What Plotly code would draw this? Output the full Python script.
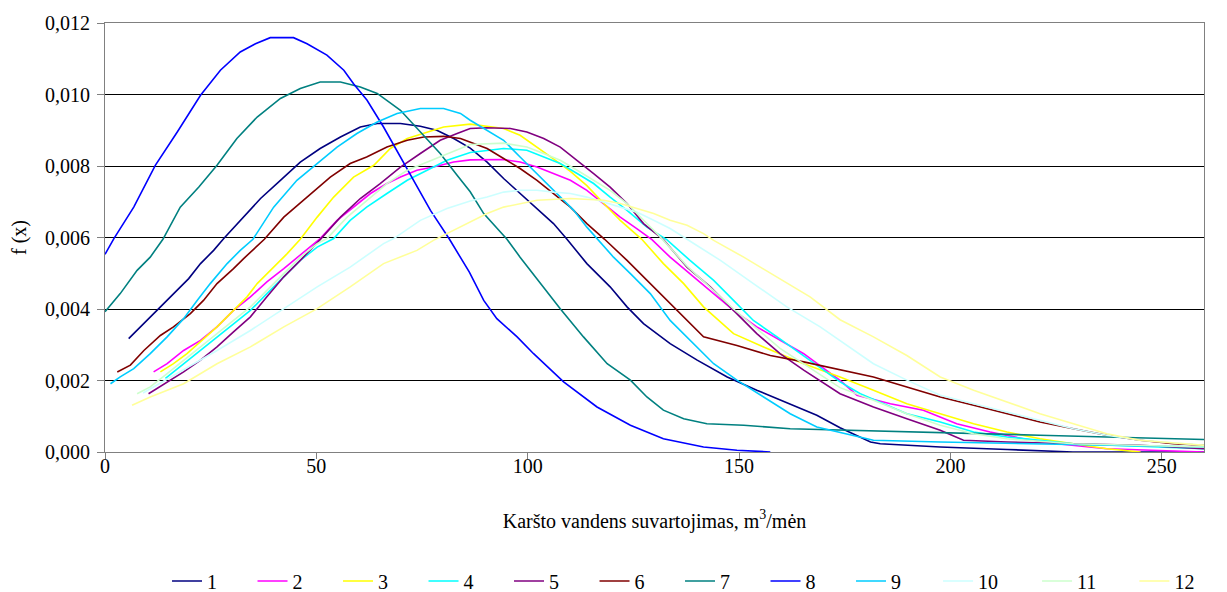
import plotly.graph_objects as go

# x: hot water consumption (m3/month); f: density values in units of 0.001
x1 = [5.6, 9.2, 12.7, 16.2, 19.8, 22.6, 25.7, 28.1, 32, 36.8, 41.5, 46.2, 50.9, 55.7, 60.4, 64.4, 69.9, 74.6, 78.5, 82.5, 86.4, 90.4, 94.3, 98.2, 102.2, 106.1, 109.3, 114, 119.5, 123.5, 127.4, 133.7, 140.1, 147.2, 154.2, 161.9, 168.4, 173.9, 177.9, 181.1, 183.4, 197.6, 213.4, 229, 260]
f1 = [3.17, 3.59, 4.01, 4.43, 4.85, 5.27, 5.64, 5.97, 6.48, 7.09, 7.60, 8.11, 8.49, 8.81, 9.09, 9.19, 9.19, 9.11, 9.00, 8.77, 8.50, 8.11, 7.65, 7.23, 6.81, 6.39, 5.95, 5.27, 4.62, 4.06, 3.59, 3.03, 2.57, 2.10, 1.73, 1.35, 1.03, 0.68, 0.47, 0.28, 0.23, 0.14, 0.07, 0.0, 0.0]

x2 = [11.5, 14.7, 18.6, 22.6, 26.5, 30.4, 34.4, 38.3, 42.3, 47, 50.9, 54.9, 58.8, 62.8, 66.7, 69.9, 73.8, 77.7, 82.5, 86.4, 94.3, 98.2, 102.2, 106.1, 110.1, 114, 118, 121.9, 125.8, 129.4, 133.7, 138.4, 143.2, 148.7, 154.2, 159.7, 165.3, 173.9, 177.9, 185.8, 193.6, 201.5, 209.4, 217.3, 225.2, 237, 260]
f2 = [2.24, 2.47, 2.84, 3.12, 3.50, 3.96, 4.34, 4.76, 5.13, 5.59, 5.97, 6.48, 6.85, 7.23, 7.51, 7.69, 7.88, 7.97, 8.11, 8.17, 8.18, 8.11, 7.97, 7.79, 7.60, 7.32, 6.95, 6.57, 6.25, 5.94, 5.45, 4.99, 4.52, 3.96, 3.50, 3.12, 2.75, 2.00, 1.59, 1.35, 1.17, 0.79, 0.56, 0.37, 0.23, 0.09, 0.0]

x3 = [13.1, 16.2, 19.4, 23.3, 26.5, 30.4, 33.6, 36, 39.9, 43.1, 46.2, 50.2, 54.1, 58.8, 63.6, 67.5, 71.5, 76.2, 80.1, 86.4, 90.4, 94.3, 98.2, 102.2, 106.1, 110.1, 114, 118, 121.9, 127, 132.1, 136.9, 141.6, 148.7, 155.8, 165.3, 173.9, 181.8, 189.7, 197.6, 205.5, 213.4, 221.2, 229.1, 237, 245]
f3 = [2.24, 2.47, 2.75, 3.17, 3.50, 3.96, 4.34, 4.71, 5.17, 5.55, 5.95, 6.57, 7.13, 7.69, 8.02, 8.49, 8.77, 8.95, 9.09, 9.17, 9.11, 9.05, 8.86, 8.53, 8.20, 7.85, 7.45, 6.95, 6.48, 5.95, 5.27, 4.71, 4.06, 3.31, 2.94, 2.47, 2.10, 1.73, 1.35, 1.07, 0.79, 0.56, 0.37, 0.23, 0.09, 0.0]

x4 = [14.3, 18.6, 22.6, 26.5, 30.4, 34.4, 38.3, 42.3, 46.2, 50.2, 54.1, 58, 61.9, 66.7, 71.5, 76.2, 80.9, 86.4, 94.3, 99.8, 103.8, 107.7, 111.7, 115.6, 119.5, 123.5, 128.2, 132.9, 138.4, 144, 148.7, 153.4, 159, 164.5, 170, 173.9, 178.7, 189.7, 197.6, 205.5, 213.4, 229.1, 260]
f4 = [2.06, 2.47, 2.84, 3.22, 3.59, 3.96, 4.43, 4.90, 5.36, 5.73, 5.97, 6.48, 6.85, 7.23, 7.60, 7.88, 8.16, 8.38, 8.49, 8.44, 8.25, 8.07, 7.79, 7.51, 7.13, 6.76, 6.29, 5.94, 5.36, 4.80, 4.24, 3.68, 3.22, 2.75, 2.29, 1.96, 1.63, 1.07, 0.84, 0.56, 0.42, 0.23, 0.09]

x5 = [10.3, 14.7, 18.6, 22.6, 26.5, 30.4, 34.4, 38.3, 42.3, 46.2, 50.9, 55.7, 60.4, 65.1, 69.9, 74.6, 79.3, 83.3, 86.4, 90.4, 95.9, 99.8, 103.8, 107.7, 111.7, 115.6, 119.5, 123.5, 127.4, 132.1, 137.7, 143.2, 148.7, 154.2, 159.7, 165.3, 173.9, 181.8, 189.7, 197.6, 203.1, 213.4, 229.1, 244.9, 260]
f5 = [1.63, 1.96, 2.24, 2.57, 2.94, 3.36, 3.78, 4.34, 4.90, 5.36, 5.94, 6.57, 7.09, 7.51, 7.97, 8.35, 8.72, 8.91, 9.05, 9.07, 9.05, 8.95, 8.77, 8.53, 8.16, 7.79, 7.41, 6.95, 6.39, 5.94, 5.17, 4.62, 3.96, 3.31, 2.75, 2.29, 1.63, 1.26, 0.93, 0.61, 0.33, 0.28, 0.23, 0.19, 0.09]

x6 = [2.9, 6, 9.2, 13.1, 16.2, 20.2, 23.3, 26.5, 30.4, 32.8, 37.7, 42.3, 47.8, 53.3, 58, 61.9, 66.7, 71.5, 75.4, 80.1, 84.1, 86.4, 90.4, 94.3, 98.2, 102.2, 106.1, 110.1, 114, 118.2, 123.5, 128.2, 132.9, 136.9, 140, 141.6, 149.5, 157.4, 165.3, 173.9, 181.8, 189.7, 197.6, 205.5, 213.4, 221.2, 229.1, 237, 244.9, 252.8, 260]
f6 = [2.24, 2.43, 2.84, 3.26, 3.50, 3.87, 4.24, 4.71, 5.13, 5.41, 5.95, 6.57, 7.13, 7.69, 8.07, 8.25, 8.53, 8.72, 8.81, 8.83, 8.77, 8.67, 8.49, 8.21, 7.93, 7.60, 7.23, 6.85, 6.39, 5.95, 5.36, 4.80, 4.24, 3.78, 3.40, 3.22, 2.98, 2.70, 2.52, 2.29, 2.10, 1.82, 1.54, 1.31, 1.07, 0.84, 0.65, 0.47, 0.33, 0.23, 0.19]

x7 = [0, 3.6, 7.6, 10.7, 13.7, 17.8, 22.2, 26.5, 31.2, 36, 41.5, 46.2, 50.9, 55.7, 60.4, 64.4, 69.9, 74.6, 79.3, 83.3, 86.4, 89.6, 95.1, 98.2, 103, 107.7, 113.2, 118.8, 124.3, 128.2, 132.1, 136.9, 142.4, 151.1, 162.1, 174, 189.7, 205.5, 221.2, 237, 260]
f7 = [3.92, 4.43, 5.08, 5.45, 5.95, 6.85, 7.41, 8.02, 8.77, 9.37, 9.89, 10.17, 10.35, 10.35, 10.21, 10.03, 9.56, 8.95, 8.35, 7.74, 7.28, 6.67, 5.95, 5.45, 4.71, 4.01, 3.22, 2.47, 2.01, 1.54, 1.17, 0.93, 0.79, 0.75, 0.65, 0.61, 0.56, 0.51, 0.47, 0.42, 0.35]

x8 = [0, 2.1, 6.8, 11.9, 17.1, 22.6, 27.3, 32, 35.6, 39.1, 44.6, 47.8, 52.5, 56.5, 58.8, 62, 65.9, 69.9, 73, 77, 81.5, 86.2, 89.6, 92.7, 97.5, 101.4, 108.5, 116.4, 124.3, 132.1, 141.6, 149.5, 157.4]
f8 = [5.53, 5.97, 6.85, 8.02, 8.95, 9.98, 10.68, 11.19, 11.42, 11.59, 11.59, 11.42, 11.10, 10.68, 10.30, 9.84, 9.09, 8.25, 7.60, 6.76, 5.95, 5.03, 4.24, 3.73, 3.22, 2.75, 1.96, 1.26, 0.75, 0.37, 0.14, 0.05, 0.0]

x9 = [1.3, 3.6, 6.8, 10.7, 14.7, 18.6, 21.8, 24.9, 28.9, 32, 35, 39.9, 45.4, 50.2, 54.9, 59.6, 64.4, 69.1, 74.6, 80.1, 84.1, 86.4, 90.4, 94.3, 98.2, 102.2, 106.1, 110.9, 114, 116.6, 120.3, 124.3, 129, 133.7, 138.4, 144, 149.5, 155.8, 162.1, 168.4, 173.9, 181.8, 197.6, 221.2, 260]
f9 = [1.91, 2.10, 2.33, 2.75, 3.22, 3.73, 4.24, 4.71, 5.27, 5.64, 5.95, 6.85, 7.60, 8.07, 8.53, 8.91, 9.23, 9.47, 9.61, 9.61, 9.47, 9.28, 9.00, 8.72, 8.25, 7.79, 7.32, 6.76, 6.29, 5.95, 5.45, 4.99, 4.43, 3.68, 3.12, 2.47, 2.01, 1.54, 1.07, 0.70, 0.54, 0.33, 0.28, 0.22, 0.14]

x10 = [9, 18.6, 26.5, 34.4, 42.3, 50.2, 58, 65.9, 68.3, 74.6, 80.9, 86.4, 90.4, 94.3, 98.2, 102.2, 106.1, 110.1, 114, 118, 121.9, 125.8, 129.8, 133.7, 137.7, 145.6, 153.4, 161.3, 169.2, 173.9, 181.8, 189.7, 197.6, 205.5, 213.4, 221.2, 229.1, 237, 244.9, 260]
f10 = [1.65, 2.29, 2.84, 3.40, 4.01, 4.62, 5.17, 5.83, 5.97, 6.48, 6.81, 7.02, 7.13, 7.27, 7.32, 7.32, 7.27, 7.23, 7.13, 6.99, 6.85, 6.71, 6.48, 6.25, 5.95, 5.36, 4.71, 4.06, 3.50, 3.12, 2.47, 2.01, 1.59, 1.35, 1.12, 0.89, 0.65, 0.47, 0.33, 0.19]

x11 = [7.6, 10.7, 14.7, 18.6, 22.6, 26.5, 30.4, 34.4, 38.3, 42.3, 46.2, 50.2, 52.5, 57.3, 62, 66.7, 71.5, 76.2, 80.9, 86.4, 94.3, 99.8, 103.8, 107.7, 111.7, 115.6, 119.5, 123.5, 127.4, 131.4, 137.7, 148.7, 159.7, 173.9, 181.8, 189.7, 197.6, 205.5, 213.4, 229.1, 260]
f11 = [1.63, 1.82, 2.19, 2.57, 2.94, 3.31, 3.68, 4.06, 4.52, 4.99, 5.45, 5.83, 5.97, 6.57, 7.04, 7.51, 7.88, 8.11, 8.35, 8.60, 8.64, 8.53, 8.35, 8.16, 7.88, 7.60, 7.32, 6.95, 6.48, 6.01, 5.20, 4.00, 2.90, 1.80, 1.45, 1.07, 0.75, 0.51, 0.37, 0.23, 0.14]

x12 = [6.4, 10.7, 18.6, 26.5, 34.4, 42.3, 50.2, 58, 65.9, 73.8, 77.7, 84, 90.4, 94.3, 98.2, 102.2, 110.1, 118, 121.9, 125.8, 129.8, 133.7, 137.7, 141.6, 144, 151.1, 159, 166.8, 173.9, 181.8, 189.7, 197.6, 205.5, 213.4, 221.2, 229.1, 237, 244.9, 260]
f12 = [1.31, 1.54, 1.91, 2.47, 2.94, 3.50, 4.01, 4.62, 5.27, 5.64, 5.92, 6.29, 6.67, 6.85, 6.95, 7.04, 7.09, 7.04, 6.95, 6.81, 6.67, 6.48, 6.34, 6.11, 5.92, 5.45, 4.90, 4.34, 3.70, 3.22, 2.70, 2.10, 1.73, 1.40, 1.07, 0.79, 0.51, 0.33, 0.19]

series_names = ["1", "2", "3", "4", "5", "6", "7", "8", "9", "10", "11", "12"]
xs = [x1, x2, x3, x4, x5, x6, x7, x8, x9, x10, x11, x12]
fs = [f1, f2, f3, f4, f5, f6, f7, f8, f9, f10, f11, f12]
colors = ["#000080", "#FF00FF", "#FFFF00", "#00FFFF", "#800080", "#800000",
          "#008080", "#0000FF", "#00CCFF", "#CCFFFF", "#CCFFCC", "#FFFF99"]

y_ticks = [0, 0.002, 0.004, 0.006, 0.008, 0.010, 0.012]
x_ticks = [0, 50, 100, 150, 200, 250]

FONT = "Liberation Serif, Times New Roman, serif"
FS = 20

fig = go.Figure()
for i, (name, xv, fv, c) in enumerate(zip(series_names, xs, fs, colors)):
    fig.add_trace(go.Scatter(
        x=xv, y=[v / 1000 for v in fv], mode="lines", name=name,
        line=dict(color=c, width=1.6),
        legend="legend" if i < 9 else ("legend2" if i < 11 else "legend3"),
    ))

leg_common = dict(orientation="h", xref="container", yref="container",
                  yanchor="middle", y=0.032, xanchor="left",
                  font=dict(family=FONT, size=FS, color="black"),
                  traceorder="normal", bgcolor="rgba(0,0,0,0)")

fig.update_layout(
    width=1227, height=592,
    margin=dict(l=97, r=31, t=15, b=148),
    paper_bgcolor="white", plot_bgcolor="white",
    separators=", ",
    font=dict(family=FONT, size=FS, color="black"),
    showlegend=True,
    legend=dict(x=0.1296, entrywidth=40.5, **leg_common),
    legend2=dict(x=0.758, entrywidth=54, **leg_common),
    legend3=dict(x=0.918, **leg_common),
)
fig.update_xaxes(
    range=[0, 260], tickvals=x_ticks, showgrid=False, zeroline=False,
    showline=True, linecolor="#808080", linewidth=1, mirror=True,
    ticks="outside", ticklen=6, tickcolor="#808080", automargin=False,
    ticklabelstandoff=-10,
    tickfont=dict(family=FONT, size=FS, color="black"),
    title=dict(text="Karšto vandens suvartojimas, m<sup>3</sup>/mėn",
               font=dict(family=FONT, size=FS, color="black"), standoff=37),
)
fig.update_yaxes(
    range=[0, 0.012], tickvals=y_ticks, tickformat=".3f",
    showgrid=True, gridcolor="black", gridwidth=1, zeroline=False,
    showline=True, linecolor="#808080", linewidth=1, mirror=True,
    ticks="outside", ticklen=7, tickcolor="#808080", automargin=False,
    ticklabelstandoff=3,
    tickfont=dict(family=FONT, size=FS, color="black"),
    title=dict(text="f (x)", font=dict(family=FONT, size=FS, color="black"), standoff=20),
)

fig.write_html("out.html")
